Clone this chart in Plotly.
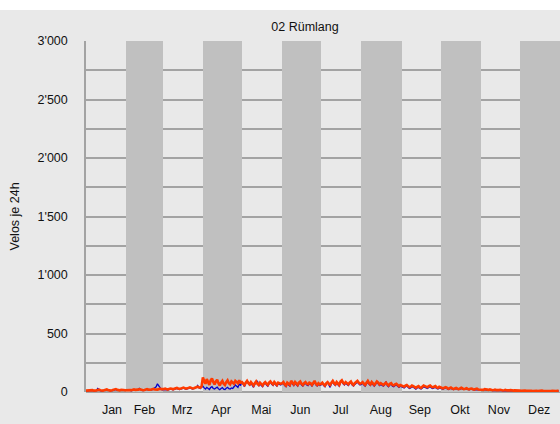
import pandas as pd
import plotly.graph_objs as go

# Data =========================================================================
month_names = ['Jan', 'Feb', 'Mrz', 'Apr', 'Mai', 'Jun',
               'Jul', 'Aug', 'Sep', 'Okt', 'Nov', 'Dez']
month_label_days = ['2019-01-21', '2019-02-15', '2019-03-16', '2019-04-15',
                    '2019-05-16', '2019-06-15', '2019-07-16', '2019-08-16',
                    '2019-09-15', '2019-10-16', '2019-11-15', '2019-12-16']
shaded_months = [2, 4, 6, 8, 10, 12]
band_top = 3000

y_tick_vals = [0, 250, 500, 750, 1000, 1250, 1500, 1750, 2000, 2250, 2500, 2750, 3000]
y_tick_text = ['0', '', '500', '', "1'000", '', "1'500", '', "2'000", '', "2'500", '', "3'000"]

days = pd.date_range('2019-01-01', '2019-12-31', freq='D')

velos_blue = (
    # Jan
    [8, 10, 7, 12, 15, 14, 9, 8, 11, 30, 18, 12, 10, 9, 13, 16, 18, 15, 11, 9, 12, 14, 17, 20, 15, 13, 11, 14, 16, 14, 12]
    # Feb
    + [12, 14, 16, 13, 11, 15, 18, 14, 12, 16, 30, 18, 14, 12, 15, 19, 22, 17, 14, 16, 20, 28, 35, 45, 70, 50, 30, 22]
    # Mrz
    + [18, 20, 23, 19, 16, 21, 25, 22, 18, 23, 27, 30, 25, 21, 24, 29, 33, 28, 23, 26, 31, 35, 30, 25, 28, 33, 40, 55, 35, 30, 45]
    # Apr
    + [50, 35, 25, 40, 30, 22, 38, 45, 30, 25, 35, 42, 28, 20, 30, 38, 25, 22, 32, 40, 28, 25, 35, 30, 45, 60, 50, 40, 70, 55]
    # Mai
    + [90, 60, 45, 70, 100, 80, 55, 75, 60, 40, 65, 85, 95, 50, 70, 55, 45, 65, 80, 60, 50, 70, 85, 65, 55, 75, 60, 50, 70, 65, 60]
    # Jun
    + [70, 75, 55, 45, 70, 60, 50, 80, 65, 55, 75, 60, 50, 70, 80, 60, 50, 65, 75, 60, 55, 70, 65, 50, 75, 85, 60, 50, 65, 55]
    # Jul
    + [60, 75, 55, 45, 65, 80, 60, 40, 70, 90, 65, 55, 75, 60, 50, 80, 90, 70, 60, 75, 65, 55, 70, 80, 60, 50, 65, 75, 85, 70, 60]
    # Aug
    + [65, 75, 60, 50, 70, 85, 65, 55, 75, 60, 50, 65, 80, 70, 55, 65, 60, 50, 60, 90, 55, 45, 60, 65, 50, 45, 55, 60, 50, 40, 50]
    # Sep
    + [45, 40, 35, 45, 50, 40, 30, 35, 45, 40, 30, 25, 35, 40, 30, 25, 35, 45, 40, 35, 30, 40, 45, 35, 30, 35, 40, 30, 25, 35]
    # Okt
    + [32, 28, 24, 30, 35, 28, 22, 26, 32, 25, 20, 24, 30, 22, 20, 25, 30, 25, 20, 22, 26, 20, 18, 22, 25, 20, 16, 20, 22, 18, 16]
    # Nov
    + [18, 16, 14, 20, 16, 13, 15, 18, 14, 12, 14, 16, 13, 11, 13, 15, 12, 10, 12, 14, 11, 10, 12, 13, 10, 9, 11, 12, 10, 9]
    # Dez
    + [10, 9, 11, 12, 10, 8, 9, 11, 10, 8, 7, 9, 10, 8, 7, 9, 11, 10, 8, 7, 6, 5, 4, 6, 7, 8, 6, 5, 7, 8, 9]
)

velos_orange = (
    # Jan
    [12, 14, 10, 15, 18, 16, 12, 11, 14, 17, 20, 15, 13, 12, 16, 19, 22, 18, 14, 12, 15, 17, 21, 25, 19, 16, 14, 18, 20, 17, 15]
    # Feb
    + [16, 18, 20, 17, 15, 19, 22, 18, 16, 20, 24, 21, 17, 15, 18, 22, 25, 20, 17, 19, 23, 26, 22, 18, 20, 24, 28, 25]
    # Mrz
    + [22, 25, 28, 24, 20, 26, 30, 27, 23, 28, 32, 35, 30, 26, 29, 34, 38, 33, 28, 31, 36, 40, 35, 30, 33, 38, 42, 45, 40, 36, 48]
    # Apr
    + [125, 95, 70, 110, 80, 60, 100, 115, 85, 65, 90, 105, 75, 55, 80, 95, 70, 60, 85, 100, 75, 65, 90, 80, 70, 95, 85, 75, 100, 80]
    # Mai
    + [85, 70, 60, 80, 95, 75, 65, 85, 70, 55, 75, 90, 70, 60, 80, 65, 55, 75, 85, 70, 60, 80, 90, 75, 65, 85, 70, 60, 80, 75, 70]
    # Jun
    + [75, 85, 65, 55, 80, 70, 60, 95, 75, 65, 85, 70, 60, 80, 90, 70, 60, 75, 85, 70, 65, 80, 75, 60, 85, 95, 70, 60, 75, 65]
    # Jul
    + [70, 80, 65, 55, 75, 85, 70, 60, 80, 95, 75, 65, 85, 70, 60, 90, 100, 80, 70, 85, 75, 65, 80, 90, 70, 60, 75, 85, 95, 80, 70]
    # Aug
    + [75, 85, 70, 60, 80, 95, 75, 65, 85, 70, 60, 75, 90, 80, 65, 75, 70, 60, 70, 80, 65, 55, 70, 75, 60, 55, 65, 70, 60, 50, 60]
    # Sep
    + [55, 50, 45, 55, 60, 50, 40, 45, 55, 50, 40, 35, 45, 50, 40, 35, 45, 55, 50, 45, 40, 50, 55, 45, 40, 45, 50, 40, 35, 45]
    # Okt
    + [40, 35, 30, 38, 42, 35, 28, 32, 38, 30, 25, 30, 35, 28, 25, 30, 36, 30, 25, 28, 32, 26, 22, 28, 30, 24, 20, 25, 28, 22, 20]
    # Nov
    + [22, 20, 18, 24, 20, 16, 18, 22, 18, 15, 17, 20, 16, 14, 16, 19, 15, 13, 15, 18, 14, 12, 14, 16, 13, 12, 14, 15, 12, 11]
    # Dez
    + [12, 11, 13, 14, 12, 10, 11, 13, 12, 10, 9, 11, 12, 10, 9, 11, 13, 12, 10, 9, 8, 7, 6, 8, 9, 10, 8, 7, 9, 10, 11]
)

# Settings =====================================================================
bg_colour = '#e9e9e9'
band_colour = '#c0c0c0'
grid_colour = '#a3a3a3'
text_colour = '#111111'
font_family = 'Liberation Sans, Arial, sans-serif'
font_size = 12.5

W, H = 560, 424
m_l, m_r, m_t, m_b = 86, 0, 41, 32
plot_w = W - m_l - m_r
plot_h = H - m_t - m_b

# Figure =======================================================================
fig = go.Figure()

# Grey bands for every second month (bars, so they sit above the grid)
band_starts = [pd.Timestamp(2019, m, 1) for m in shaded_months]
band_ends = [s + pd.offsets.MonthBegin(1) for s in band_starts]
fig.add_trace(go.Bar(
    x=[s + (e - s) / 2 for s, e in zip(band_starts, band_ends)],
    y=[band_top] * len(band_starts),
    width=[(e - s).total_seconds() * 1000 for s, e in zip(band_starts, band_ends)],
    marker=dict(color=band_colour, line=dict(width=0)),
    showlegend=False, hoverinfo='skip'
))

fig.add_trace(go.Scatter(
    x=days, y=velos_blue, mode='lines',
    line=dict(color='#0000d0', width=1.3),
    showlegend=False, hoverinfo='x+y'
))
fig.add_trace(go.Scatter(
    x=days, y=velos_orange, mode='lines',
    line=dict(color='#ff3a00', width=2.6),
    showlegend=False, hoverinfo='x+y'
))

fig.update_layout(
    width=W, height=H,
    margin=dict(l=m_l, r=m_r, t=m_t, b=m_b),
    paper_bgcolor=bg_colour, plot_bgcolor=bg_colour,
    font=dict(family=font_family, size=font_size, color=text_colour),
    showlegend=False,
    bargap=0,
    title=dict(
        text='02 Rümlang', x=305 / W, xanchor='center',
        y=1 - 27 / H, yanchor='middle',
        font=dict(size=font_size, color=text_colour)
    ),
)

fig.update_xaxes(
    type='date',
    range=['2019-01-01', '2020-01-01'],
    tickvals=month_label_days, ticktext=month_names,
    ticks='outside', ticklen=6, tickcolor=bg_colour,
    showgrid=False, zeroline=False, showline=False,
)

fig.update_yaxes(
    range=[0, 3000],
    tickvals=y_tick_vals, ticktext=y_tick_text,
    ticks='outside', ticklen=14, tickcolor=bg_colour,
    showgrid=True, gridcolor=grid_colour, gridwidth=1.5,
    zeroline=True, zerolinecolor=grid_colour, zerolinewidth=1.5,
    showline=True, linecolor=grid_colour, linewidth=1.5,
)

# White strip along the very top of the page
fig.add_annotation(
    text='', xref='paper', yref='paper',
    x=-m_l / plot_w, y=1 + m_t / plot_h,
    xanchor='left', yanchor='top',
    width=W + 10, height=10, bgcolor='white', borderpad=0, borderwidth=0,
    showarrow=False
)

fig.add_annotation(
    text='Velos je 24h', xref='paper', yref='paper',
    x=(14 - m_l) / plot_w, y=0.5, textangle=-90,
    showarrow=False, font=dict(size=font_size, color=text_colour),
    xanchor='center', yanchor='middle'
)

fig.write_html('out.html', config={'displayModeBar': False},
               post_script="document.body.style.margin='0';")
